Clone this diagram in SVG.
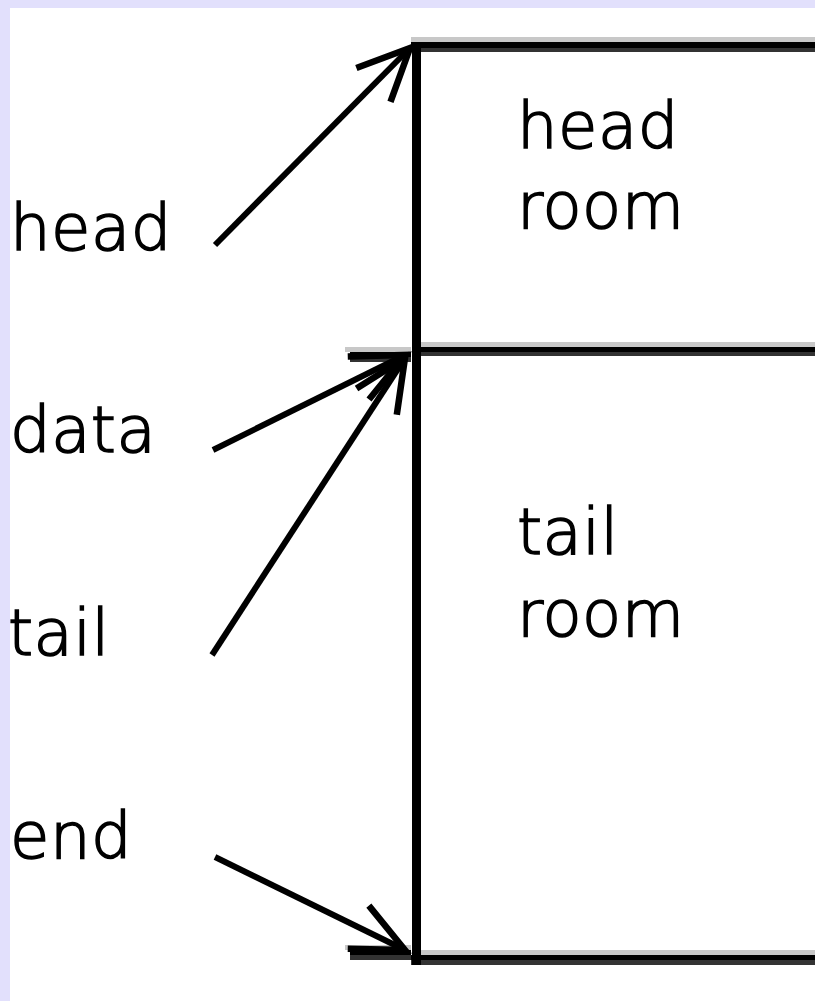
<svg xmlns="http://www.w3.org/2000/svg" width="815" height="1001" viewBox="0 0 815 1001">
  <style>
    text { font-family: "DejaVu Sans", "Liberation Sans", sans-serif; font-size: 64px; font-weight: 200; letter-spacing: 0.5px; fill: #000; stroke: #000; stroke-width: 1.6px; }
    .hi { fill: #c8c8c8; }
    .core { fill: #000; }
    .lo { fill: #333; }
    .ptr { stroke: #000; stroke-width: 6; fill: none; marker-end: url(#open); }
  </style>
  <defs>
    <marker id="open" markerUnits="userSpaceOnUse" viewBox="-60 -30 64 60" refX="0" refY="0" markerWidth="64" markerHeight="60" orient="auto" overflow="visible">
      <path d="M -52 -24 L 0 0 L -52 24" stroke="#000" stroke-width="6.5" fill="none" stroke-linejoin="miter"/>
    </marker>
  </defs>

  <!-- page background with lavender frame on top and left -->
  <rect x="0" y="0" width="815" height="1001" fill="#e2e0fc"/>
  <rect x="10" y="8" width="805" height="993" fill="#fff"/>

  <!-- buffer: vertical spine and the three boundary lines -->
  <g id="buffer">
    <!-- top boundary -->
    <rect class="hi" x="411" y="37" width="404" height="5"/>
    <rect class="core" x="411" y="42" width="404" height="6"/>
    <rect class="lo" x="421" y="48" width="394" height="4"/>
    <!-- head/tail room divider -->
    <rect class="hi" x="421" y="342" width="394" height="5"/>
    <rect class="core" x="421" y="347" width="394" height="5"/>
    <rect class="lo" x="421" y="352" width="394" height="4"/>
    <rect class="hi" x="345" y="347" width="66" height="5"/>
    <rect class="core" x="350" y="352" width="61" height="5"/>
    <rect class="lo" x="350" y="357" width="61" height="5"/>
    <!-- bottom boundary -->
    <rect class="hi" x="421" y="950" width="394" height="5"/>
    <rect class="core" x="411" y="955" width="404" height="5"/>
    <rect class="lo" x="411" y="960" width="404" height="5"/>
    <rect class="hi" x="345" y="945" width="66" height="5"/>
    <rect class="core" x="350" y="950" width="61" height="5"/>
    <rect class="lo" x="350" y="955" width="61" height="5"/>
    <!-- spine -->
    <rect class="core" x="412" y="42" width="9" height="923"/>
  </g>

  <g id="headroom">
    <text x="517" y="148">head</text>
    <text x="517" y="228">room</text>
  </g>
  <g id="tailroom">
    <text x="517" y="554">tail</text>
    <text x="517" y="636">room</text>
  </g>

  <g id="ptr-head"><text x="10" y="250">head</text></g>
  <g id="ptr-data"><text x="10" y="452">data</text></g>
  <g id="ptr-tail"><text x="8" y="655">tail</text></g>
  <g id="ptr-end"><text x="10" y="858">end</text></g>

  <g id="connectors">
    <line class="ptr" x1="215" y1="245" x2="410" y2="48"/>
    <line class="ptr" x1="213" y1="450" x2="405" y2="355"/>
    <line class="ptr" x1="212" y1="655" x2="405" y2="358"/>
    <line class="ptr" x1="215" y1="857" x2="405" y2="950"/>
  </g>
</svg>
